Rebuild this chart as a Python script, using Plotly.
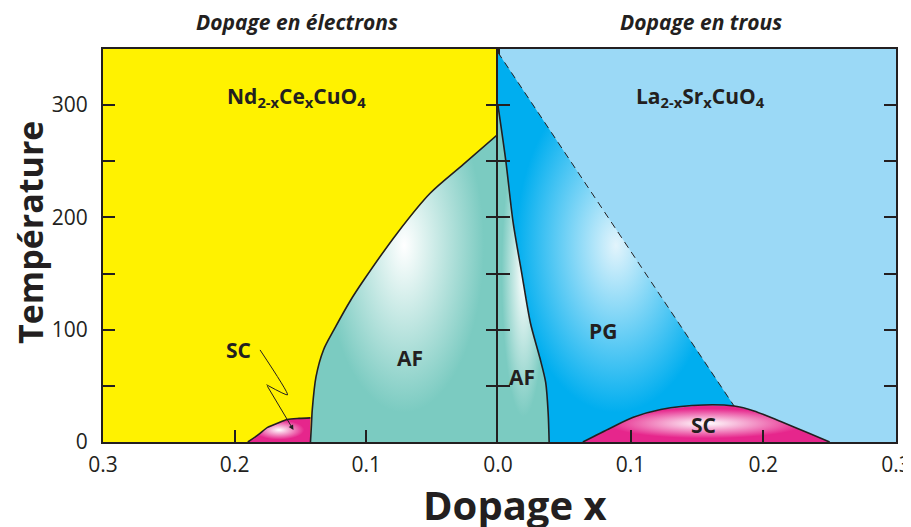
import plotly.graph_objects as go

# ---------------- data ----------------
# Electron-doped side, Nd2-xCexCuO4 (axis reversed: 0.3 -> 0.0)
af_e_x = [0.0, 0.0265, 0.0515, 0.0765, 0.102, 0.112, 0.1245, 0.1325, 0.1382, 0.141, 0.1418, 0.1424]
af_e_t = [274, 247, 221.5, 186, 144, 126, 100, 82, 58, 29, 12, 0]
sc_e_x = [0.19, 0.182, 0.175, 0.167, 0.16, 0.151, 0.1424]
sc_e_t = [0, 6.5, 13, 17, 20, 21, 21.5]

# Hole-doped side, La2-xSrxCuO4
af_h_x = [0.0, 0.006, 0.0114, 0.018, 0.0245, 0.0316, 0.036, 0.0379, 0.0386]
af_h_t = [300, 250, 196, 150, 106, 75, 53, 25, 0]
sc_h_x = [0.064, 0.085, 0.102, 0.1227, 0.155, 0.178, 0.193, 0.2136, 0.234, 0.25]
sc_h_t = [0, 12.5, 22, 29, 33, 32, 27.7, 18, 8, 0]
pg_line_x = [0.0, 0.178]
pg_line_t = [347, 32]

# SC pointer (electron side)
sc_ptr_x = [0.1807, 0.1598, 0.1758]
sc_ptr_t = [82, 42, 51]
sc_ptr_tip = (0.1553, 10.7)

x_left_ticks = [0.3, 0.2, 0.1]
x_left_text = ["0.3", "0.2", "0.1"]
x_right_ticks = [0.0, 0.1, 0.2, 0.3]
x_right_text = ["0.0", "0.1", "0.2", "0.3"]
y_ticks = [0, 100, 200, 300]
y_minor = [50, 150, 250]
T_MAX = 350

YELLOW = "#FFF200"
LIGHTBLUE = "#9BD9F6"
DARKBLUE = "#00AEEF"
TEAL = "#7BCBC1"
PINK = "#E6268C"
INK = "#231F20"
FONT = "Open Sans"

fig = go.Figure()

def fill_trace(xs, ys, xa, ya, colorscale):
    return go.Scatter(x=xs, y=ys, xaxis=xa, yaxis=ya, mode="lines", fill="toself",
                      fillgradient=dict(type="radial", colorscale=colorscale),
                      line=dict(width=0), hoverinfo="skip", showlegend=False)

def line_trace(xs, ys, xa, ya, dash="solid", width=1.6, shape="spline"):
    return go.Scatter(x=xs, y=ys, xaxis=xa, yaxis=ya, mode="lines",
                      line=dict(color=INK, width=width, dash=dash, shape=shape, smoothing=0.8),
                      hoverinfo="skip", showlegend=False)

teal_cs = [[0, "#FFFFFF"], [0.85, TEAL], [1, TEAL]]
pink_cs = [[0, "#FFFFFF"], [0.8, PINK], [1, PINK]]
pg_cs = [[0, "#E2F4FC"], [0.85, DARKBLUE], [1, DARKBLUE]]

# --- electron side fills (zero-width excursion along x=0 up to T_MAX centres the glow)
fig.add_trace(fill_trace([0.0, 0.0] + af_e_x, [0, T_MAX] + af_e_t, "x", "y", teal_cs))
fig.add_trace(fill_trace(sc_e_x + [sc_e_x[-1]], sc_e_t + [0], "x", "y", pink_cs))
# --- hole side fills
keep = [i for i in reversed(range(len(sc_h_x))) if sc_h_x[i] < pg_line_x[-1]]
pg_x = pg_line_x + [sc_h_x[i] for i in keep] + list(reversed(af_h_x)) + [0.0]
pg_t = pg_line_t + [sc_h_t[i] for i in keep] + list(reversed(af_h_t)) + [T_MAX]
fig.add_trace(fill_trace(pg_x, pg_t, "x2", "y2", pg_cs))
fig.add_trace(fill_trace(af_h_x + [0.0], af_h_t + [0], "x2", "y2", teal_cs))
fig.add_trace(fill_trace(sc_h_x, sc_h_t, "x2", "y2", pink_cs))

# --- outlines
fig.add_trace(line_trace(af_e_x, af_e_t, "x", "y"))
fig.add_trace(line_trace(sc_e_x, sc_e_t, "x", "y"))
fig.add_trace(line_trace(af_h_x, af_h_t, "x2", "y2"))
fig.add_trace(line_trace(sc_h_x, sc_h_t, "x2", "y2"))
fig.add_trace(line_trace(pg_line_x, pg_line_t, "x2", "y2", dash="7px,5px", width=1, shape="linear"))
fig.add_trace(go.Scatter(x=sc_ptr_x, y=sc_ptr_t, xaxis="x", yaxis="y", mode="lines",
                         line=dict(color=INK, width=1, shape="spline", smoothing=0.5),
                         hoverinfo="skip", showlegend=False))

shapes = [
    dict(type="rect", xref="x domain", yref="y domain", x0=0, x1=1, y0=0, y1=1,
         fillcolor=YELLOW, line=dict(width=0), layer="below"),
    dict(type="rect", xref="x2 domain", yref="y2 domain", x0=0, x1=1, y0=0, y1=1,
         fillcolor=LIGHTBLUE, line=dict(width=0), layer="below"),
]

def lab(text, x, y, xref, yref, size=21, **kw):
    f = dict(family=FONT, size=size, color=INK, weight="bold")
    f.update(kw)
    return dict(text=text, x=x, y=y, xref=xref, yref=yref, showarrow=False,
                xanchor="center", yanchor="middle", font=f)

annotations = [
    lab("Nd<sub>2-x</sub>Ce<sub>x</sub>CuO<sub>4</sub>", 0.153, 307, "x", "y"),
    lab("La<sub>2-x</sub>Sr<sub>x</sub>CuO<sub>4</sub>", 0.153, 307, "x2", "y2"),
    lab("SC", 0.197, 82, "x", "y"),
    lab("AF", 0.0667, 75, "x", "y"),
    lab("AF", 0.018, 58, "x2", "y2"),
    lab("PG", 0.0795, 99, "x2", "y2"),
    lab("SC", 0.155, 15, "x2", "y2"),
    lab("Dopage en électrons", 0.49, 1.069, "x domain", "paper", size=21, style="italic"),
    lab("Dopage en trous", 0.51, 1.069, "x2 domain", "paper", size=21, style="italic"),
    lab("Dopage x", (515 - 103) / 793, -0.158, "paper", "paper", size=40),
    dict(lab("Température", -0.092, 0.532, "paper", "paper", size=34), textangle=-90),
    dict(x=sc_ptr_tip[0], y=sc_ptr_tip[1], ax=sc_ptr_x[-1], ay=sc_ptr_t[-1],
         xref="x", yref="y", axref="x", ayref="y", showarrow=True, text="",
         arrowhead=2, arrowsize=1, arrowwidth=1, arrowcolor=INK),
]

axis_common = dict(showgrid=False, zeroline=False, showline=True, linecolor=INK, linewidth=2,
                   ticks="inside", ticklen=12, tickwidth=1.5, tickcolor=INK, automargin=False,
                   ticklabeloverflow="allow",
                   tickfont=dict(family=FONT, size=21, color=INK))
minor = dict(tickvals=y_minor, ticks="inside", ticklen=12, tickwidth=1.5, tickcolor=INK)

fig.update_layout(
    width=903, height=519,
    margin=dict(l=95, r=15, t=41, b=85),
    paper_bgcolor="white", plot_bgcolor="white",
    showlegend=False,
    shapes=shapes, annotations=annotations,
    xaxis=dict(domain=[0, 0.498], range=[0.3, 0], anchor="y", mirror=True,
               tickvals=x_left_ticks, ticktext=x_left_text, ticklabelstandoff=3,
               **axis_common),
    xaxis2=dict(domain=[0.498, 1], range=[0, 0.3], anchor="y2", mirror=True,
                tickvals=x_right_ticks, ticktext=x_right_text, ticklabelstandoff=3,
                **axis_common),
    yaxis=dict(domain=[0, 1], range=[0, T_MAX], anchor="x", mirror="ticks",
               tickvals=y_ticks, ticklabelstandoff=9, minor=minor, **axis_common),
    yaxis2=dict(domain=[0, 1], range=[0, T_MAX], anchor="x2", mirror="ticks", matches="y",
                tickvals=y_ticks, showticklabels=False, minor=minor, **axis_common),
)

fig.write_html("out.html")
